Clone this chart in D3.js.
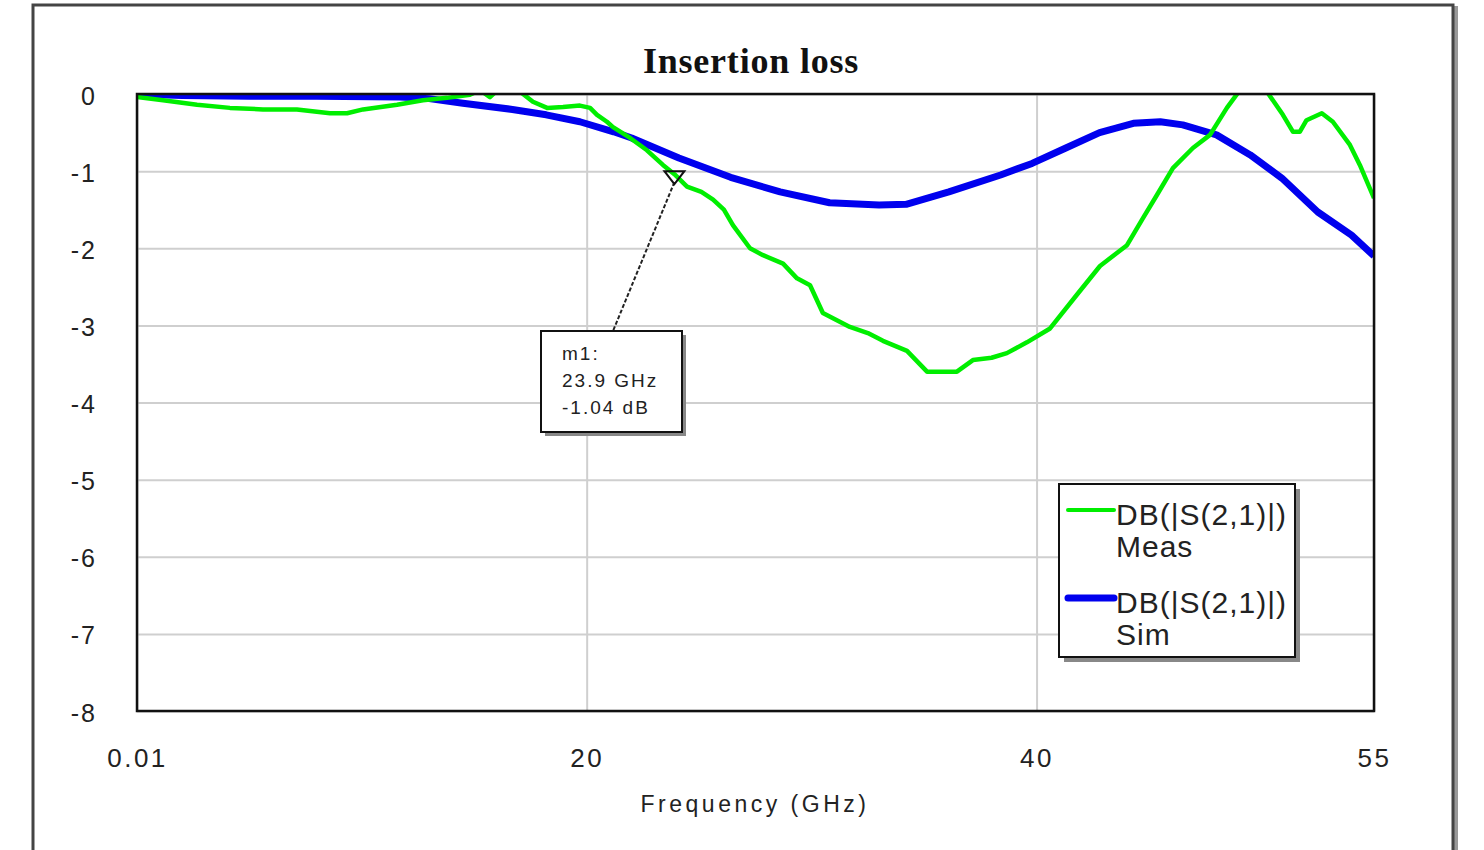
<!DOCTYPE html>
<html><head><meta charset="utf-8">
<script src="https://cdn.jsdelivr.net/npm/d3@7/dist/d3.min.js"></script>
<style>
html,body{margin:0;padding:0;background:#fff;}
svg{display:block;}
text{font-family:"Liberation Sans",Arial,sans-serif;fill:#222;}
</style></head>
<body>
<svg id="chart" width="1484" height="850"></svg>
<script>
const title = "Insertion loss";
const xLabel = "Frequency (GHz)";
const xTicks = [0.01, 20, 40, 55];
const xTickLabels = ["0.01", "20", "40", "55"];
const yTicks = [0, -1, -2, -3, -4, -5, -6, -7, -8];

const simFreq = [0.01, 2, 5, 8, 11.7, 13, 14.5, 16.7, 18.2, 19.7, 21.2, 22, 24.1, 26.4, 28.6, 30.8, 33, 34.2, 36.1, 38.4, 39.8, 41.3, 42.8, 44.3, 45.5, 46.5, 48, 49.5, 50.9, 52.5, 54, 55];
const simDb   = [0, -0.02, -0.03, -0.03, -0.04, -0.06, -0.12, -0.2, -0.27, -0.36, -0.49, -0.57, -0.83, -1.08, -1.27, -1.41, -1.44, -1.43, -1.27, -1.05, -0.9, -0.7, -0.5, -0.38, -0.36, -0.4, -0.53, -0.79, -1.09, -1.53, -1.83, -2.1];

const measFreq = [0.01, 1.17, 2.68, 4.14, 5.61, 7.12, 8.59, 9.35, 10.06, 11.57, 12.72, 13.79, 14.81, 15.26, 15.7, 16.15, 16.59, 17.04, 17.61, 18.24, 18.95, 19.7, 20.15, 20.46, 20.9, 21.17, 21.93, 22.68, 23.39, 23.9, 24.46, 25.1, 25.62, 26.1, 26.5, 27.26, 27.84, 28.73, 29.35, 29.93, 30.5, 31.7, 32.5, 33.17, 34.24, 35.13, 36.46, 37.17, 38.0, 38.68, 39.57, 40.6, 41.8, 42.82, 44.02, 44.73, 45.35, 46.06, 46.95, 47.71, 48.46, 49.04, 49.6, 50.24, 50.95, 51.4, 51.7, 52.0, 52.68, 53.17, 53.93, 54.37, 55];
const measDb   = [-0.04, -0.08, -0.14, -0.18, -0.2, -0.2, -0.25, -0.25, -0.2, -0.14, -0.08, -0.05, -0.01, 0.05, -0.04, 0.08, 0.1, 0.03, -0.1, -0.18, -0.17, -0.15, -0.18, -0.27, -0.36, -0.43, -0.57, -0.73, -0.92, -1.04, -1.2, -1.27, -1.37, -1.5, -1.7, -2.0, -2.09, -2.2, -2.39, -2.48, -2.84, -3.02, -3.1, -3.2, -3.33, -3.6, -3.6, -3.45, -3.42, -3.36, -3.22, -3.04, -2.6, -2.23, -1.96, -1.61, -1.31, -0.96, -0.7, -0.53, -0.18, 0.05, 0.2, 0.03, -0.27, -0.49, -0.49, -0.34, -0.25, -0.36, -0.66, -0.92, -1.35];

const markerFreq = 23.9, markerDb = -1.04;
const markerLines = ["m1:", "23.9 GHz", "-1.04 dB"];
const legendItems = [
  {name1: "DB(|S(2,1)|)", name2: "Meas", color: "#00ee00", width: 4},
  {name1: "DB(|S(2,1)|)", name2: "Sim", color: "#0000ee", width: 7}
];

const svg = d3.select("#chart");
const L = 137, R = 1374, T = 94, B = 711;
const x = d3.scaleLinear().domain([0.01, 55]).range([L, R]);
const y = d3.scaleLinear().domain([-8, 0]).range([B, T]);

// outer frame
svg.append("rect").attr("x", 36).attr("y", 8).attr("width", 1420).attr("height", 860).attr("fill", "none").attr("stroke", "#999").attr("stroke-width", 4);
svg.append("rect").attr("x", 33).attr("y", 5).attr("width", 1420).attr("height", 860).attr("fill", "#fff").attr("stroke", "#444").attr("stroke-width", 3);

// title
svg.append("text").attr("x", 751).attr("y", 73).attr("text-anchor", "middle")
  .style("font-family", '"Liberation Serif","Times New Roman",serif').style("font-weight", "bold")
  .style("font-size", "36px").style("letter-spacing", "0.8px").style("fill", "#111").text(title);

// grid + y axis
const gy = svg.append("g").attr("transform", `translate(${L},0)`)
  .call(d3.axisLeft(y).tickValues(yTicks).tickSize(-(R - L)).tickPadding(40).tickFormat(d => String(d)));
gy.select(".domain").remove();
gy.selectAll("line").attr("stroke", "#cfcfcf").attr("stroke-width", 2);
gy.selectAll("text").style("font-size", "25px").attr("dy", "0.4em").style("letter-spacing", "2px").attr("fill", "#222");

const gx = svg.append("g").attr("transform", `translate(0,${B})`)
  .call(d3.axisBottom(x).tickValues(xTicks).tickSize(-(B - T)).tickPadding(38).tickFormat((d, i) => xTickLabels[i]));
gx.select(".domain").remove();
gx.selectAll("line").attr("stroke", "#cfcfcf").attr("stroke-width", 2);
gx.selectAll("text").style("font-size", "26px").style("letter-spacing", "2.5px").attr("fill", "#222");

// axis title
svg.append("text").attr("x", 755).attr("y", 812).attr("text-anchor", "middle")
  .style("font-size", "23px").style("letter-spacing", "3.5px").text(xLabel);

// clip
svg.append("clipPath").attr("id", "clip").append("rect").attr("x", L).attr("y", T).attr("width", R - L).attr("height", B - T);

const line = d3.line().x(d => x(d[0])).y(d => y(d[1]));
const plot = svg.append("g").attr("clip-path", "url(#clip)");
plot.append("path").datum(d3.zip(simFreq, simDb)).attr("d", line).attr("fill", "none")
  .attr("stroke", legendItems[1].color).attr("stroke-width", 7).attr("stroke-linejoin", "round");
plot.append("path").datum(d3.zip(measFreq, measDb)).attr("d", line).attr("fill", "none")
  .attr("stroke", legendItems[0].color).attr("stroke-width", 4.5).attr("stroke-linejoin", "round");

// plot border
svg.append("rect").attr("x", L).attr("y", T).attr("width", R - L).attr("height", B - T)
  .attr("fill", "none").attr("stroke", "#111").attr("stroke-width", 2.5);

// marker
const mx = x(markerFreq), my = y(markerDb);
const boxX = 541, boxY = 331, boxW = 141, boxH = 101;
svg.append("line").attr("x1", mx).attr("y1", my + 8).attr("x2", boxX + 72).attr("y2", boxY)
  .attr("stroke", "#222").attr("stroke-width", 2).attr("stroke-dasharray", "4,2");
svg.append("path").attr("d", `M${mx - 10},${my - 3} L${mx + 10},${my - 3} L${mx},${my + 10} Z`)
  .attr("fill", "none").attr("stroke", "#111").attr("stroke-width", 2);
svg.append("rect").attr("x", boxX + 4).attr("y", boxY + 4).attr("width", boxW).attr("height", boxH).attr("fill", "#888");
svg.append("rect").attr("x", boxX).attr("y", boxY).attr("width", boxW).attr("height", boxH)
  .attr("fill", "#fff").attr("stroke", "#111").attr("stroke-width", 2);
markerLines.forEach((t, i) => {
  svg.append("text").attr("x", boxX + 21).attr("y", boxY + 29 + i * 27)
    .style("font-size", "19px").style("letter-spacing", "2px").text(t);
});

// legend
const lgX = 1059, lgY = 484, lgW = 236, lgH = 173;
svg.append("rect").attr("x", lgX + 5).attr("y", lgY + 5).attr("width", lgW).attr("height", lgH).attr("fill", "#888");
svg.append("rect").attr("x", lgX).attr("y", lgY).attr("width", lgW).attr("height", lgH)
  .attr("fill", "#fff").attr("stroke", "#111").attr("stroke-width", 2);
legendItems.forEach((it, i) => {
  const yy = lgY + 26 + i * 88;
  svg.append("line").attr("x1", lgX + 9).attr("x2", lgX + 55).attr("y1", yy).attr("y2", yy)
    .attr("stroke", it.color).attr("stroke-width", it.width).attr("stroke-linecap", "round");
  svg.append("text").attr("x", lgX + 57).attr("y", yy + 15).style("font-size", "30px").style("letter-spacing", "1px").text(it.name1);
  svg.append("text").attr("x", lgX + 57).attr("y", yy + 47).style("font-size", "30px").style("letter-spacing", "1px").text(it.name2);
});
</script>
</body></html>
